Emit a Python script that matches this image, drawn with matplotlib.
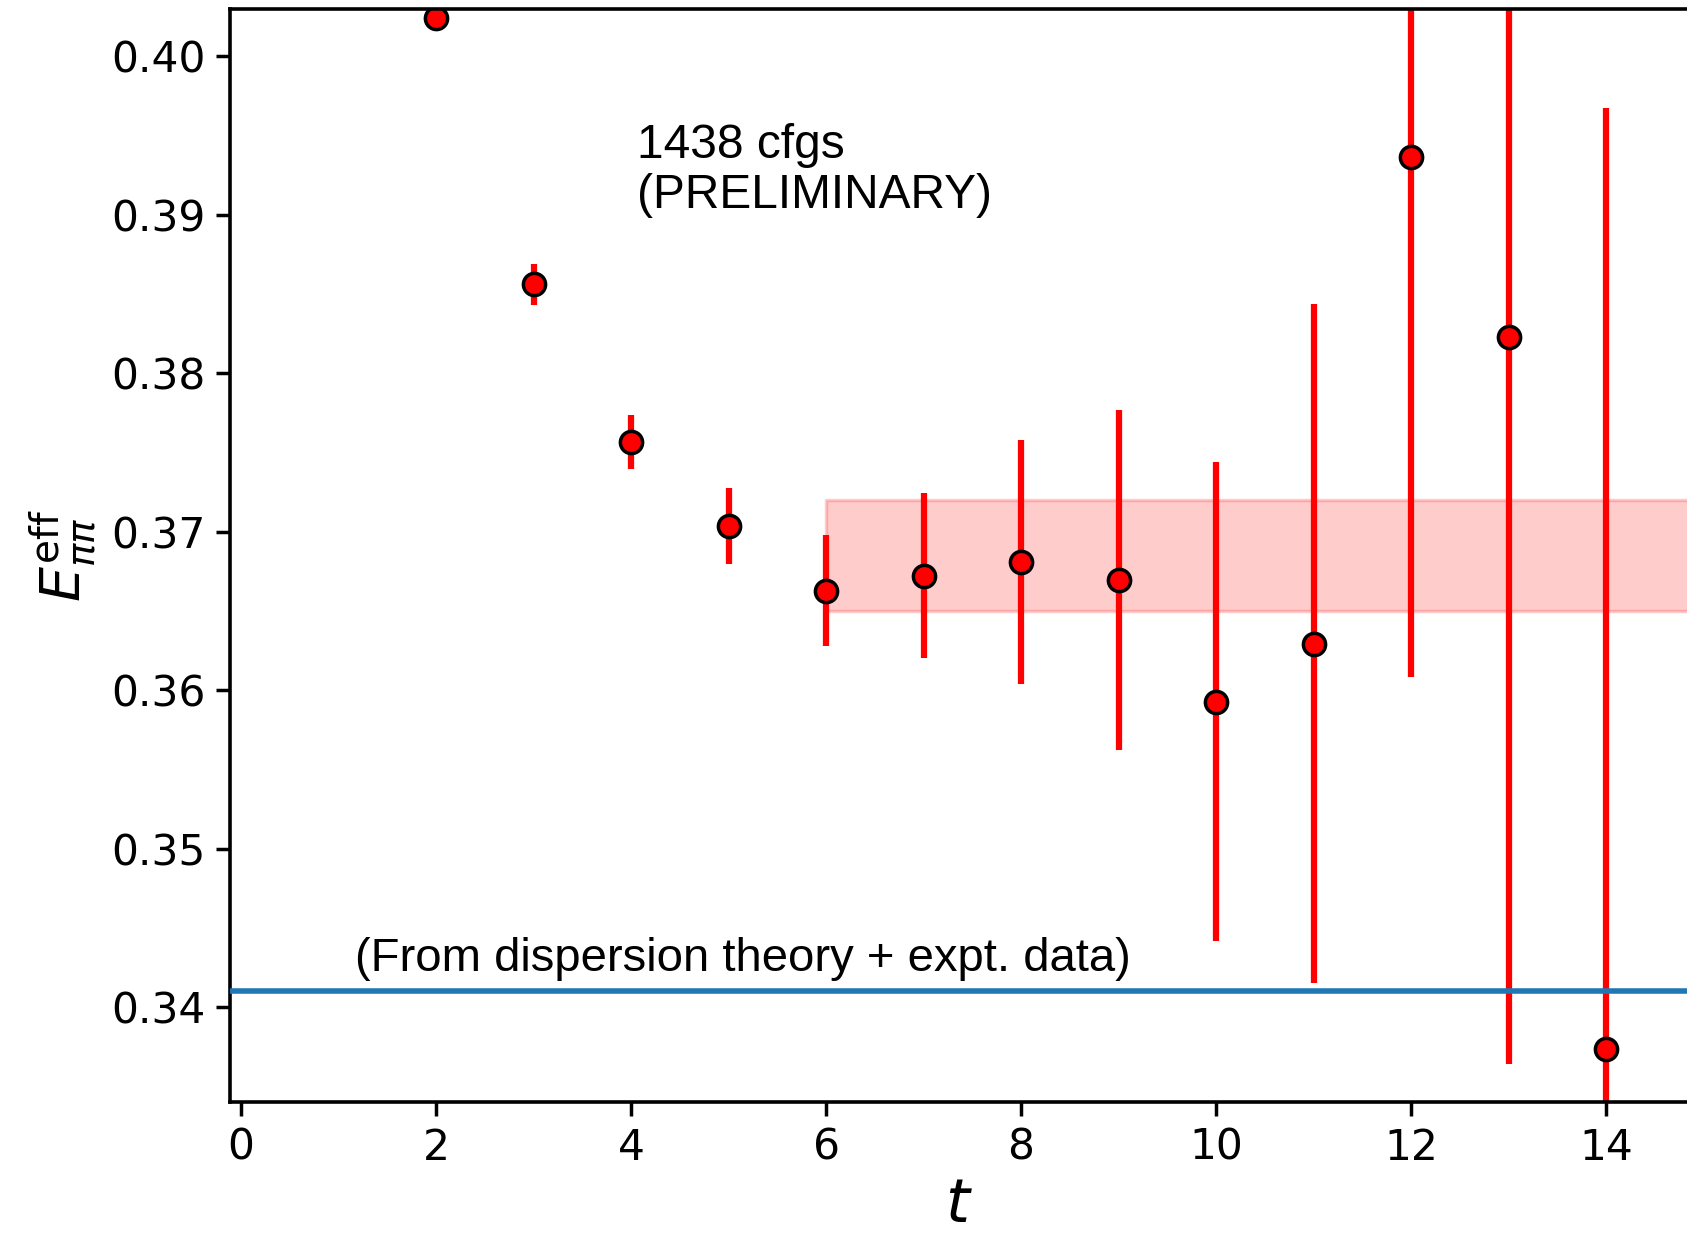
"""
Effective pi-pi energy vs time slice, with plateau fit band and dispersion-theory line
"""

import matplotlib
matplotlib.use("Agg")
import matplotlib.pyplot as plt

###############################################################################
# Data
#
t_values = [2, 3, 4, 5, 6, 7, 8, 9, 10, 11, 12, 13, 14]
e_eff = [0.40238, 0.38561, 0.37563, 0.37033, 0.36626, 0.36721, 0.36809,
         0.36694, 0.35927, 0.36293, 0.39362, 0.38228, 0.33734]
e_err = [0.0003, 0.0013, 0.0017, 0.0024, 0.0035, 0.0052, 0.0077,
         0.0107, 0.0151, 0.0214, 0.0328, 0.0459, 0.0594]

fit_range = [6, 16]
fit_value = 0.3685
fit_error = 0.0035

dispersion_value = 0.341

x_ticks = [0, 2, 4, 6, 8, 10, 12, 14]
y_ticks = [0.34, 0.35, 0.36, 0.37, 0.38, 0.39, 0.40]

###############################################################################
# Figure
#
figure = plt.figure(figsize=(16.87, 12.33), dpi=100)
axe = figure.add_axes([0.1365, 0.1065, 0.8635, 0.8865])

axe.fill_between(fit_range, fit_value - fit_error, fit_value + fit_error,
                 color="red", alpha=0.2, linewidth=2.5, zorder=1)

axe.errorbar(t_values, e_eff, yerr=e_err, fmt="o", color="red",
             ecolor="red", elinewidth=4.5, markersize=16,
             markerfacecolor="red", markeredgecolor="black",
             markeredgewidth=2.5, zorder=2)

axe.axhline(dispersion_value, color="#1f77b4", linewidth=4.0, zorder=3)

text_font = ["Liberation Sans", "DejaVu Sans"]
axe.text(4.06, 0.3898, "1438 cfgs\n(PRELIMINARY)", fontsize=34.5,
         family=text_font, linespacing=1.12, va="bottom", ha="left")
axe.text(1.17, 0.34165, "(From dispersion theory + expt. data)", fontsize=34,
         family=text_font, va="bottom", ha="left")

axe.set_xlim(-0.11, 14.83)
axe.set_ylim(0.33403, 0.40299)
axe.set_xticks(x_ticks)
axe.set_yticks(y_ticks)
axe.yaxis.set_major_formatter(matplotlib.ticker.FormatStrFormatter("%.2f"))

axe.tick_params(labelsize=30.5, length=10, width=2.5, pad=8)
for side in ["left", "bottom", "top"]:
    axe.spines[side].set_linewidth(2.6)
axe.spines["right"].set_visible(False)

axe.set_xlabel(r"$t$", fontsize=44, labelpad=5)
axe.set_ylabel(r"$E_{\pi\pi}^{\rm eff}$", fontsize=40, labelpad=9)

figure.savefig("out.png", dpi=100)
